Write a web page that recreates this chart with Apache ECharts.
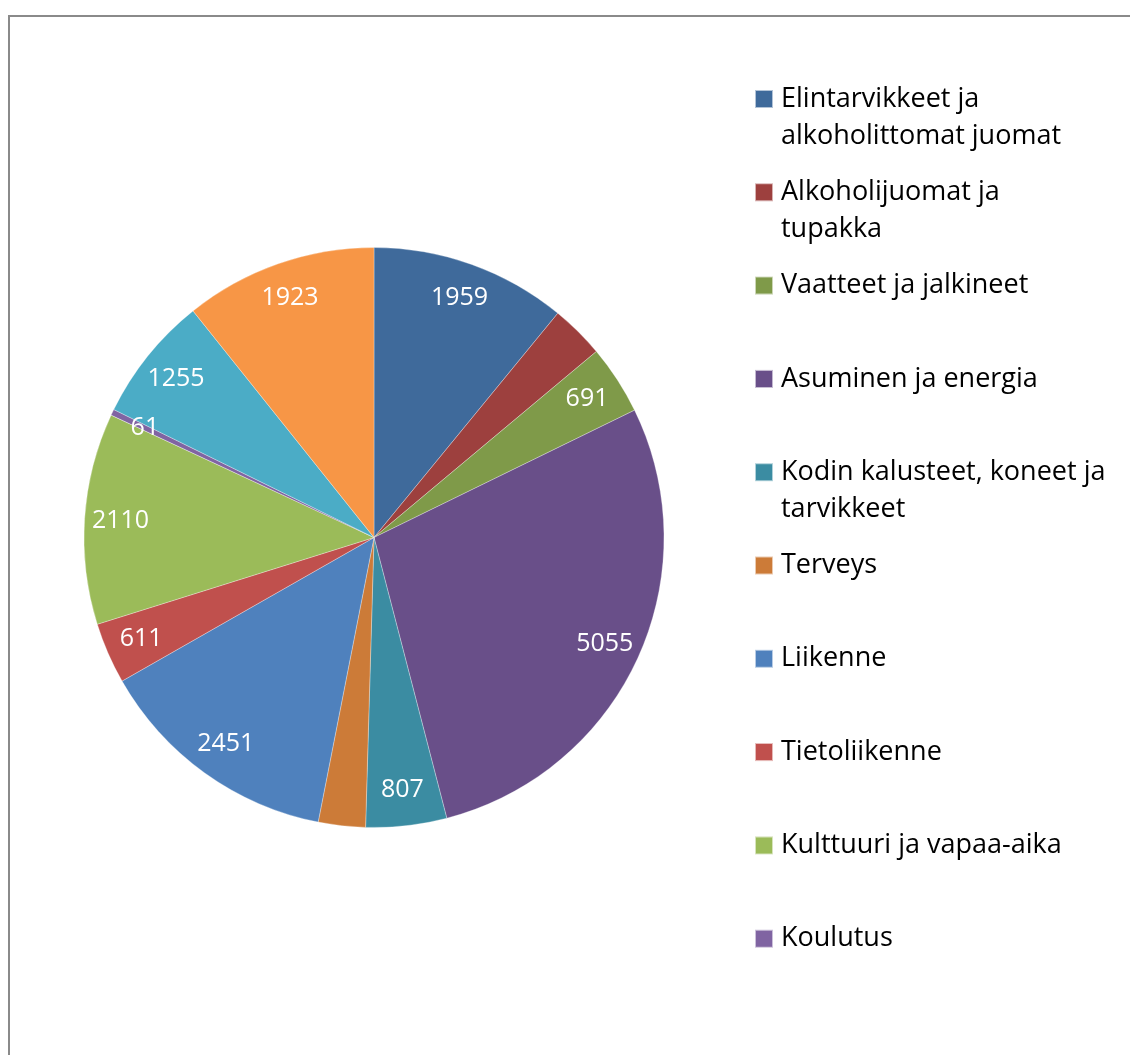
<!DOCTYPE html>
<html>
<head>
<meta charset="utf-8">
<title>Kulutusmenot</title>
<script src="https://cdn.jsdelivr.net/npm/echarts@6/dist/echarts.min.js"></script>
<style>
  html, body { margin: 0; padding: 0; background: #fff; overflow: hidden; }
  #chart { position: absolute; left: 0; top: 0; width: 1130px; height: 1055px; }
  /* grey chart-area frame, cut off at right and bottom */
  #frame {
    position: absolute; left: 8px; top: 15px; width: 1140px; height: 1060px;
    border-left: 2px solid #8a8a8a; border-top: 2px solid #8a8a8a;
  }
</style>
</head>
<body>
<div id="frame"></div>
<div id="chart"></div>
<script>
// data
const names = [
  "Elintarvikkeet ja alkoholittomat juomat",
  "Alkoholijuomat ja tupakka",
  "Vaatteet ja jalkineet",
  "Asuminen ja energia",
  "Kodin kalusteet, koneet ja tarvikkeet",
  "Terveys",
  "Liikenne",
  "Tietoliikenne",
  "Kulttuuri ja vapaa-aika",
  "Koulutus",
  "Ravintolat ja hotellit",
  "Muut tavarat ja palvelut"
];
const values = [1959, 535, 691, 5055, 807, 470, 2451, 611, 2110, 61, 1255, 1923];
// slices whose value is not printed in the picture
const unlabelled = ["Alkoholijuomat ja tupakka", "Terveys"];
// legend shows only the first ten (the rest are cut off)
const legendLines = [
  ["Elintarvikkeet ja", "alkoholittomat juomat"],
  ["Alkoholijuomat ja", "tupakka"],
  ["Vaatteet ja jalkineet"],
  ["Asuminen ja energia"],
  ["Kodin kalusteet, koneet ja", "tarvikkeet"],
  ["Terveys"],
  ["Liikenne"],
  ["Tietoliikenne"],
  ["Kulttuuri ja vapaa-aika"],
  ["Koulutus"]
];

const palette = [
  "#3f6a9b", "#9d403e", "#7f9a49", "#694f89", "#3b8ca2", "#cc7b38",
  "#4f81bd", "#c0504d", "#9bbb59", "#8064a2", "#4bacc6", "#f79646"
];
const font = "Open Sans";
const center = [374, 537.5];
const radius = 290;
const lineH = 37;

const legends = legendLines.map((lines, i) => {
  // a leading empty line keeps the marker level with the first text line
  const twoLines = lines.length > 1;
  const txt = twoLines ? "\n" + lines.join("\n") : lines[0];
  const iconCenter = 99 + i * 93.3;
  return {
    data: [names[i]],
    left: 754,
    top: iconCenter - (twoLines ? 1.5 : 0.5) * lineH,
    padding: 0,
    icon: "rect",
    itemWidth: 18,
    itemHeight: 18,
    selectedMode: false,
    formatter: () => txt,
    textStyle: {
      fontFamily: font,
      fontSize: 27,
      color: "#000",
      lineHeight: lineH,
      padding: [0, 0, 0, 3]
    }
  };
});

const chart = echarts.init(document.getElementById("chart"));
chart.setOption({
  animation: false,
  color: palette,
  legend: legends,
  series: [
    {
      type: "pie",
      center: center,
      radius: [0, radius],
      startAngle: 90,
      clockwise: true,
      label: { show: false },
      labelLine: { show: false },
      itemStyle: { borderColor: "rgba(255,255,255,0.6)", borderWidth: 0.5 },
      emphasis: { disabled: true },
      data: names.map((n, i) => ({ name: n, value: values[i] }))
    },
    {
      // label ring: values are placed at ~86% of the radius
      type: "pie",
      center: center,
      radius: [212, radius],
      startAngle: 90,
      clockwise: true,
      silent: true,
      legendHoverLink: false,
      itemStyle: { color: "rgba(0,0,0,0)" },
      label: {
        position: "inside",
        color: "#fff",
        fontFamily: font,
        fontSize: 25,
        formatter: "{c}"
      },
      labelLine: { show: false },
      emphasis: { disabled: true },
      data: names.map((n, i) => ({
        name: n,
        value: values[i],
        label: { show: unlabelled.indexOf(n) < 0 }
      }))
    }
  ]
});
</script>
</body>
</html>
